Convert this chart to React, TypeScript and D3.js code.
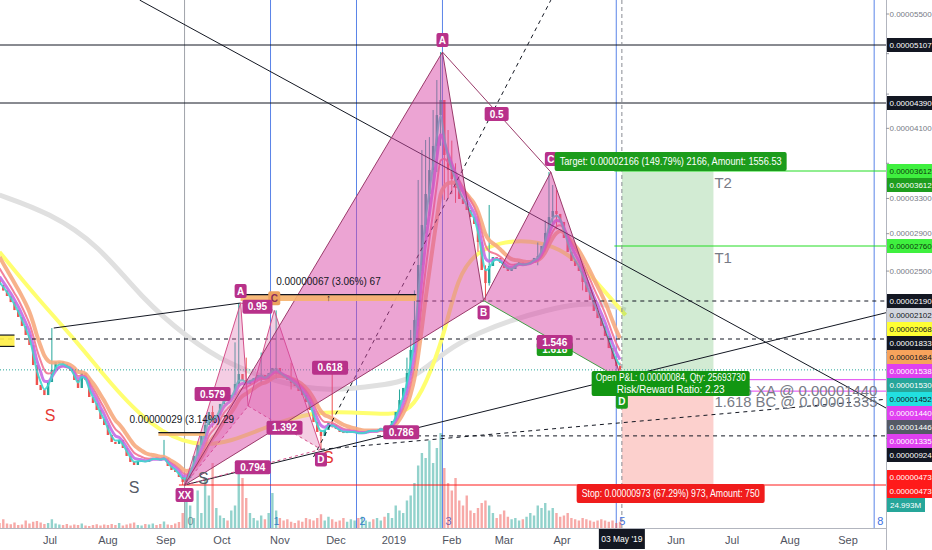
import * as d3 from "d3";

const W = 932;
const H = 550;
const PR = 886; // right edge of plot (price axis starts here)
const PB = 528; // bottom edge of plot (time axis starts here)
const FONT = "'Liberation Sans', Arial, sans-serif";
const AXIS_FS = 8;

const parseDay = d3.utcParse("%Y-%m-%d");
const day = (s: string) => parseDay(s) as Date;

// ---------- price data (2-day candles, prices in 1e-8 units) ----------
const candleStart = "2018-06-04";
const firstOpen = 2410;
const closes = [
  2356, 2299, 2242, 2180, 2105, 2040, 1955, 1871, 1774, 1577,
  1391, 1345, 1299, 1419, 1529, 1607, 1607, 1587, 1548, 1520,
  1437, 1364, 1501, 1437, 1281, 1226, 1162, 1079, 1024, 932,
  868, 850, 887, 813, 740, 685, 657, 694, 694, 685,
  703, 722, 712, 703, 722, 648, 611, 593, 547, 501,
  538, 629, 740, 841, 923, 1024, 1143, 1088, 1115, 1217,
  1290, 1272, 1299, 1400, 1492, 1437, 1400, 1437, 1455, 1483,
  1483, 1446, 1501, 1548, 1548, 1483, 1455, 1437, 1409, 1382,
  1336, 1299, 1235, 1162, 1051, 960, 923, 978, 1042, 1024,
  987, 960, 950, 960, 960, 960, 941, 950, 960, 978,
  969, 969, 997, 978, 1015, 1060, 1143, 1253, 1364, 1501,
  1725, 2011, 2563, 2999, 3351, 3623, 3898, 4252, 4427, 3795,
  3623, 3521, 3419, 3294, 3237, 3169, 3089, 3010, 2805, 2511,
  2376, 2553, 2646, 2636, 2584, 2532, 2501, 2522, 2574, 2594,
  2563, 2574, 2594, 2636, 2656, 2760, 2908, 3089, 3158, 3124,
  3033, 2851, 2698, 2605, 2553, 2501, 2387, 2283, 2200, 2096,
  2030, 1955, 1861, 1744, 1636, 1567, 1530,
];
// [candle index, high, low]
const wicks: [number, number, number][] = [
  [14, 1936, 1500], [44, 887, 700], [49, 560, 473], [55, 1080, 900],
  [57, 1200, 1000], [63, 1800, 1300], [64, 2171, 1380], [66, 1650, 1350],
  [70, 1700, 1400], [74, 2102, 1450], [78, 1600, 1350], [86, 980, 800],
  [89, 1558, 1000], [107, 1350, 1150], [109, 1650, 1300], [110, 1918, 1480],
  [111, 2300, 1700], [112, 3510, 1950], [113, 3852, 2500], [114, 3967, 2900],
  [115, 4000, 3100], [116, 4310, 3400], [117, 4674, 3600], [118, 5020, 3900],
  [119, 4195, 3283], [120, 4081, 3300], [121, 3960, 3350], [122, 3700, 3250],
  [128, 3100, 2700], [130, 2560, 2195], [131, 3226, 2350], [144, 2800, 2560],
  [146, 3050, 2700], [147, 3600, 2900], [148, 3453, 3000], [149, 3400, 2950],
  [156, 2550, 2300], [166, 1600, 1350],
];
// volume, millions
const volumes = [
  20, 35, 18, 15, 22, 12, 14, 30, 18, 25,
  28, 22, 16, 20, 35, 18, 14, 12, 16, 10,
  14, 12, 18, 10, 8, 12, 15, 10, 14, 12,
  16, 12, 20, 10, 14, 18, 22, 12, 10, 16,
  14, 18, 12, 16, 26, 14, 12, 18, 24, 60,
  120, 90, 40, 150, 60, 200, 130, 260, 80, 50,
  40, 30, 70, 90, 240, 200, 120, 60, 40, 30,
  50, 35, 60, 140, 70, 40, 30, 35, 25, 20,
  30, 25, 40, 35, 30, 40, 55, 30, 45, 35,
  25, 30, 40, 25, 35, 30, 40, 45, 30, 25,
  35, 40, 30, 45, 60, 40, 90, 70, 60, 110,
  130, 180, 250, 300, 280, 350, 260, 320, 380, 240,
  180, 150, 200, 110, 90, 130, 70, 60, 80, 100,
  110, 90, 60, 40, 55, 70, 45, 35, 40, 30,
  35, 45, 60, 50, 90, 80, 100, 70, 80, 60,
  45, 50, 60, 40, 35, 30, 40, 35, 30, 25,
  30, 35, 30, 25, 30, 20, 25,
];
const lastVolumeLabel = "24.993M";

// EMA ribbons (periods in candles, starting values read at the left edge)
const ribbonPeriods = [2.5, 4, 6, 9];
const ribbonSeeds = [2420, 2500, 2600, 2720];
const ribbonColors = ["#3fd6cf", "#c46be6", "#f27390", "#f6aa7e"];
const ribbonWidths = [2, 3, 2, 4];

// slow moving averages
const yellowMA: [string, number][] = [
  ["2018-06-04", 2698], ["2018-06-25", 2200], ["2018-07-17", 1774], ["2018-08-02", 1409],
  ["2018-08-24", 1006], ["2018-09-16", 822], ["2018-10-06", 868], ["2018-10-27", 1024],
  ["2018-11-18", 1143], ["2018-12-09", 1143], ["2018-12-31", 1116], ["2019-01-10", 1162],
  ["2019-01-18", 1391], ["2019-01-28", 1871], ["2019-02-04", 2439], ["2019-02-14", 2698],
  ["2019-02-27", 2805], ["2019-03-15", 2828], ["2019-03-31", 2739], ["2019-04-13", 2532],
  ["2019-04-24", 2283], ["2019-05-05", 2058],
];
const grayMA: [string, number][] = [
  ["2018-06-04", 3339], ["2018-07-01", 3135], ["2018-07-27", 2771], ["2018-08-19", 2221],
  ["2018-09-12", 1852], ["2018-10-05", 1577], ["2018-11-01", 1409], ["2018-11-27", 1327],
  ["2018-12-26", 1391], ["2019-01-11", 1437], ["2019-01-29", 1725], ["2019-02-16", 1899],
  ["2019-03-05", 2011], ["2019-03-24", 2105], ["2019-04-10", 2171], ["2019-04-28", 2152],
  ["2019-05-05", 2105],
];

// axes
const monthTicks: [string, string][] = [
  ["2018-07-01", "Jul"], ["2018-08-01", "Aug"], ["2018-09-01", "Sep"], ["2018-10-01", "Oct"],
  ["2018-11-01", "Nov"], ["2018-12-01", "Dec"], ["2019-01-01", "2019"], ["2019-02-01", "Feb"],
  ["2019-03-01", "Mar"], ["2019-04-01", "Apr"], ["2019-05-01", "May"], ["2019-06-01", "Jun"],
  ["2019-07-01", "Jul"], ["2019-08-01", "Aug"], ["2019-09-01", "Sep"],
];
const priceTicks = [5500, 5000, 4500, 4100, 3700, 3300, 2900, 2500, 2100, 1700, 1300, 900];
// [value, background, text colour] in price-axis order
const axisTags: [number, string, string][] = [
  [5107, "#131722", "#ffffff"], [4390, "#131722", "#ffffff"],
  [3612, "#3ff03f", "#0d3d0d"], [3612, "#1e9e1e", "#ffffff"],
  [2760, "#3ff03f", "#0d3d0d"], [2190, "#131722", "#ffffff"],
  [2102, "#d1d4dc", "#131722"], [2068, "#ffff33", "#131722"],
  [1833, "#131722", "#ffffff"], [1684, "#f7a35c", "#131722"],
  [1538, "#e040f0", "#ffffff"], [1530, "#26a69a", "#ffffff"],
  [1452, "#22e0e0", "#131722"], [1440, "#e040f0", "#ffffff"],
  [1446, "#555a66", "#ffffff"], [1335, "#e040f0", "#ffffff"],
  [924, "#131722", "#ffffff"], [473, "#ff1a1a", "#ffffff"],
  [473, "#ff1a1a", "#ffffff"],
];

// Fibonacci time zones
const fibDates = ["2018-09-11", "2018-10-27", "2018-12-12", "2019-01-27", "2019-04-30", "2019-09-15"];
const fibLabels = ["0", "1", "2", "3", "5", "8"];

// harmonic patterns X, A, B, C, D
const bigPattern: [string, number][] = [
  ["2018-09-11", 473], ["2019-01-27", 5020], ["2019-02-18", 2195], ["2019-03-26", 3600], ["2019-05-03", 1440],
];
const bigRatios = ["0.618", "0.5", "1.546", "0.786"];
const smallPattern: [string, number][] = [
  ["2018-09-11", 473], ["2018-10-11", 2171], ["2018-10-15", 1198], ["2018-10-29", 2102], ["2018-11-23", 800],
];
const smallRatios = ["0.579", "0.95", "1.392", "0.794"];

// long position tool
const entryDate = "2019-05-03";
const exitDate = "2019-06-21";
const entryPrice = 1446;
const targetPrice = 3612;
const stopPrice = 473;
const targetText = "Target: 0.00002166 (149.79%) 2166, Amount: 1556.53";
const stopText = "Stop: 0.00000973 (67.29%) 973, Amount: 750";
const pnlText = "Open P&L: 0.00000084, Qty: 25693730";
const rrText = "Risk/Reward Ratio: 2.23";
const crosshairText = "03 May '19";

// horizontal levels: value, start date (null = left edge)
const levelValues = [5107, 4390, 3612, 2760, 2190, 1833, 1530, 1440, 1335, 924, 473];
const levelStarts: (string | null)[] = [
  null, null, "2019-04-29", "2019-04-29", "2019-01-13", null, null, "2019-05-03", "2019-05-03", "2018-12-23", "2018-09-08",
];
const levelStyles = [
  { c: "#131722", d: "" }, { c: "#131722", d: "" }, { c: "#22dd22", d: "" }, { c: "#22dd22", d: "" },
  { c: "#131722", d: "4 4" }, { c: "#131722", d: "4 4" }, { c: "#26a69a", d: "1 2" }, { c: "#e040f0", d: "" },
  { c: "#e040f0", d: "" }, { c: "#131722", d: "4 4" }, { c: "#ff1a1a", d: "" },
];
const levelTexts: [number, string][] = [[1440, "0.786 XA @ 0.00001440"], [1335, "1.618 BC @ 0.00001335"]];
const targetNames: [number, string][] = [[3612, "T2"], [2760, "T1"]];

// trend lines: [start, end] with null meaning the right edge
const trendLines: { a: [string, number]; b: [string | null, number]; dash: string; color: string }[] = [
  { a: ["2018-08-18", 5676], b: [null, 1180], dash: "", color: "#131722" },
  { a: ["2018-09-11", 473], b: [null, 2080], dash: "", color: "#131722" },
  { a: ["2018-11-19", 730], b: ["2019-03-26", 5676], dash: "4 4", color: "#131722" },
  { a: ["2018-11-23", 800], b: [null, 1260], dash: "4 4", color: "#131722" },
  { a: ["2018-07-03", 1936], b: ["2018-10-11", 2171], dash: "", color: "#131722" },
];

// price range measurements: from, to, low, high, label
const measures: [string, string, number, number, string][] = [
  ["2018-10-11", "2019-01-13", 2190, 2257, "0.00000067 (3.06%) 67"],
  ["2018-08-28", "2018-09-22", 924, 953, "0.00000029 (3.14%) 29"],
  ["2018-06-01", "2018-06-12", 1760, 1870, ""],
];

// "S" marks
const sMarks: [string, number, string][] = [
  ["2018-07-01", 1116, "#e53935"], ["2018-08-15", 455, "#555a66"],
  ["2018-09-21", 537, "#555a66"], ["2018-11-27", 730, "#e53935"],
];

function Tag({ x, y, text, bg, fg = "#fff", fs = 10, h = 14, w }: any) {
  const width = w ?? text.length * fs * 0.6 + 6;
  return (
    <g>
      <rect x={x - width / 2} y={y - h / 2} width={width} height={h} rx={2} fill={bg} />
      <text x={x} y={y} dy="0.35em" textAnchor="middle" fontSize={fs} fontWeight="bold" fill={fg}>{text}</text>
    </g>
  );
}

export default function App() {
  const x = d3.scaleUtc().domain([day("2018-07-01"), day("2019-09-01")]).range([50, 848]);
  // price axis calibrated on the drawn levels
  const y = d3.scaleLinear()
    .domain([473, 1538, 1833, 2190, 2760, 3612, 4390, 5107, 5500])
    .range([485, 369, 339, 301, 246, 171, 103, 45, 14]);
  const vy = d3.scaleLinear().domain([0, 400]).range([PB, PB - 100]);
  const rightDate = x.invert(PR);

  const wickMap = new Map(wicks.map(w => [w[0], w]));
  const candles = closes.map((c, i) => {
    const date = d3.utcDay.offset(day(candleStart), i * 2);
    const open = i ? closes[i - 1] : firstOpen;
    const w = wickMap.get(i);
    return {
      date, open, close: c,
      high: w ? Math.max(w[1], open, c) : Math.max(open, c),
      low: w ? Math.min(w[2], open, c) : Math.min(open, c),
      vol: volumes[i],
      up: c >= open,
    };
  });

  const ribbons = ribbonPeriods.map((p, k) => {
    const a = 2 / (p + 1);
    let e = ribbonSeeds[k];
    return candles.map(c => {
      e += a * (c.close - e);
      return [c.date, e] as [Date, number];
    });
  });

  const smooth = d3.line<[Date, number]>().x(d => x(d[0])).y(d => y(d[1])).curve(d3.curveMonotoneX);
  const maPath = (pts: [string, number][]) =>
    d3.line<[string, number]>().x(d => x(day(d[0]))).y(d => y(d[1])).curve(d3.curveBasis)(pts) ?? "";

  // price-axis tags, stacked so they do not overlap
  const TAG_H = 14;
  const tagYs = axisTags.map(t => y(t[0]));
  for (let i = 1; i < tagYs.length; i++) tagYs[i] = Math.max(tagYs[i], tagYs[i - 1] + TAG_H);
  const volTagY = PB - 23;
  tagYs[tagYs.length - 1] = Math.min(tagYs[tagYs.length - 1], volTagY - TAG_H);
  for (let i = tagYs.length - 2; i >= 0; i--) tagYs[i] = Math.min(tagYs[i], tagYs[i + 1] - TAG_H);
  const tagCovers = (py: number) =>
    tagYs.some(ty => Math.abs(ty - py) < TAG_H - 2) || Math.abs(volTagY - py) < TAG_H - 2;

  const pat = (p: [string, number][]) => p.map(d => [x(day(d[0])), y(d[1])] as [number, number]);
  const big = pat(bigPattern);
  const small = pat(smallPattern);
  const mid = (a: [number, number], b: [number, number]) => [(a[0] + b[0]) / 2, (a[1] + b[1]) / 2];
  const tri = (a: number[], b: number[], c: number[]) => `M${a[0]},${a[1]}L${b[0]},${b[1]}L${c[0]},${c[1]}Z`;

  const xs = x(day(entryDate));
  const xe = x(day(exitDate));
  const cx = (xs + xe) / 2 + 3;
  const bw = 2.4;

  return (
    <svg width={W} height={H} style={{ position: "fixed", left: 0, top: 0 }} fontFamily={FONT}>
      <defs>
        <clipPath id="plot"><rect x={0} y={0} width={PR} height={PB} /></clipPath>
      </defs>
      <rect width={W} height={H} fill="#ffffff" />

      <g clipPath="url(#plot)">
        {/* Fibonacci time zones */}
        {fibDates.map((d, i) => (
          <g key={d}>
            <line x1={x(day(d))} x2={x(day(d))} y1={0} y2={PB} stroke={i === 0 ? "#a0a3ab" : "#5a84e8"} strokeWidth={1} />
            <text x={x(day(d)) + 3} y={PB - 3} fontSize={11} fill={i === 0 ? "#8a8d96" : "#3b6ee0"}>{fibLabels[i]}</text>
          </g>
        ))}

        {/* slow MAs */}
        <path d={maPath(grayMA)} fill="none" stroke="#e0e0e0" strokeWidth={5} />
        <path d={maPath(yellowMA)} fill="none" stroke="#ffff70" strokeWidth={4} />

        {/* volume */}
        {candles.map((c, i) => (
          <rect key={"v" + i} x={x(c.date) - bw / 2} y={vy(c.vol)} width={bw} height={PB - vy(c.vol)}
            fill={c.up ? "#26a69a" : "#ef5350"} opacity={0.5} />
        ))}

        {/* position tool areas */}
        <rect x={xs} y={y(targetPrice)} width={xe - xs} height={y(entryPrice) - y(targetPrice)} fill="rgba(76,175,80,0.25)" />
        <rect x={xs} y={y(entryPrice)} width={xe - xs} height={y(stopPrice) - y(entryPrice)} fill="rgba(244,67,54,0.25)" />

        {/* candles */}
        {candles.map((c, i) => {
          const col = c.up ? "#26a69a" : "#ef5350";
          const top = y(Math.max(c.open, c.close));
          const bot = y(Math.min(c.open, c.close));
          return (
            <g key={"c" + i}>
              <line x1={x(c.date)} x2={x(c.date)} y1={y(c.high)} y2={y(c.low)} stroke={col} strokeWidth={1} />
              <rect x={x(c.date) - bw / 2} y={top} width={bw} height={Math.max(1, bot - top)} fill={col} />
            </g>
          );
        })}

        {/* EMA ribbons, slowest first */}
        {[3, 2, 1, 0].map(k => (
          <path key={"r" + k} d={smooth(ribbons[k]) ?? ""} fill="none" stroke={ribbonColors[k]} strokeWidth={ribbonWidths[k]} opacity={0.9} />
        ))}

        {/* horizontal levels */}
        {levelValues.map((v, i) => (
          <line key={"l" + i} x1={levelStarts[i] ? x(day(levelStarts[i] as string)) : 0} x2={PR}
            y1={y(v)} y2={y(v)} stroke={levelStyles[i].c} strokeDasharray={levelStyles[i].d} strokeWidth={1} />
        ))}

        {/* trend lines */}
        {trendLines.map((t, i) => (
          <line key={"t" + i} x1={x(day(t.a[0]))} y1={y(t.a[1])}
            x2={x(t.b[0] ? day(t.b[0]) : rightDate)} y2={y(t.b[1])}
            stroke={t.color} strokeWidth={1} strokeDasharray={t.dash} />
        ))}

        {/* small XABCD pattern */}
        <path d={tri(small[0], small[1], small[2])} fill="#e070b0" opacity={0.35} />
        <path d={tri(small[2], small[3], small[4])} fill="#e070b0" opacity={0.35} />
        <path d={d3.line()(small) ?? ""} fill="none" stroke="#d4508a" strokeWidth={1} />
        <line x1={small[0][0]} y1={small[0][1]} x2={small[2][0]} y2={small[2][1]} stroke="#d4508a" strokeDasharray="3 3" />
        <line x1={small[1][0]} y1={small[1][1]} x2={small[3][0]} y2={small[3][1]} stroke="#d4508a" strokeDasharray="3 3" />
        <line x1={small[2][0]} y1={small[2][1]} x2={small[4][0]} y2={small[4][1]} stroke="#d4508a" strokeDasharray="3 3" />
        <line x1={small[0][0]} y1={small[0][1]} x2={small[4][0]} y2={small[4][1]} stroke="#d4508a" strokeDasharray="3 3" />

        {/* big XABCD pattern */}
        <path d={tri(big[0], big[1], big[2])} fill="#d94aa8" opacity={0.5} />
        <path d={tri(big[2], big[3], big[4])} fill="#d94aa8" opacity={0.5} />
        <path d={d3.line()(big) ?? ""} fill="none" stroke="#9a3a6a" strokeWidth={1} />
        <line x1={big[0][0]} y1={big[0][1]} x2={big[2][0]} y2={big[2][1]} stroke="#9a3a6a" />
        <line x1={big[1][0]} y1={big[1][1]} x2={big[3][0]} y2={big[3][1]} stroke="#9a3a6a" />
        <line x1={big[2][0]} y1={big[2][1]} x2={big[4][0]} y2={big[4][1]} stroke="#43a047" />

        {/* measurements */}
        {measures.map((m, i) => {
          const x1 = x(day(m[0])), x2 = x(day(m[1]));
          return (
            <g key={"m" + i}>
              <rect x={x1} y={y(m[3])} width={x2 - x1} height={y(m[2]) - y(m[3])} fill={i === 2 ? "#ffee44" : "#f6b26b"} opacity={0.9} />
              <line x1={x1} x2={x2} y1={y(m[3])} y2={y(m[3])} stroke="#131722" strokeWidth={1.2} />
              {i === 2 && <line x1={x1} x2={x2} y1={y(m[2])} y2={y(m[2])} stroke="#131722" strokeWidth={1.2} />}
              {m[4] && <text x={(x1 + x2) / 2} y={y(m[3]) - 10} textAnchor="middle" fontSize={10} fill="#131722">{m[4]}</text>}
              {i === 0 && <text x={(x1 + x2) / 2} y={y(m[3]) + 6} textAnchor="middle" fontSize={9} fill="#131722">↑</text>}
            </g>
          );
        })}

        {/* crosshair at last bar */}
        <line x1={xs} x2={xs} y1={0} y2={PB} stroke="#888b94" strokeDasharray="4 3" />

        {/* S marks */}
        {sMarks.map((s, i) => (
          <text key={"s" + i} x={x(day(s[0]))} y={y(s[1]) + 6} textAnchor="middle" fontSize={16} fill={s[2]}>S</text>
        ))}

        {/* level texts */}
        {targetNames.map(t => (
          <text key={t[1]} x={xe + 1} y={y(t[0]) + 17} fontSize={15} fill="#787b86">{t[1]}</text>
        ))}
        {levelTexts.map(t => (
          <text key={t[1]} x={xe + 1} y={y(t[0]) + 16} fontSize={15} fill="#787b86" textLength={163} lengthAdjust="spacingAndGlyphs">{t[1]}</text>
        ))}

        {/* pattern labels */}
        <Tag x={small[1][0]} y={small[1][1] - 12} text="A" bg="#b8318a" />
        <Tag x={small[3][0]} y={small[3][1] - 12} text="C" bg="#eba15e" fg="#8a2a5a" />
        <Tag x={small[4][0]} y={small[4][1] + 10} text="D" bg="#b8318a" />
        {(() => {
          const pts = [mid(small[0], small[1]), mid(small[1], small[3]), mid(small[2], small[4]), mid(small[0], small[4])];
          return pts.map((p, i) => <Tag key={"sr" + i} x={p[0]} y={p[1]} text={smallRatios[i]} bg="#b8318a" />);
        })()}
        <Tag x={big[0][0]} y={big[0][1] + 10} text="XX" bg="#b8318a" />
        <Tag x={big[1][0]} y={big[1][1] - 12} text="A" bg="#b8318a" />
        <Tag x={big[2][0]} y={big[2][1] + 12} text="B" bg="#b8318a" />
        <Tag x={big[3][0]} y={big[3][1] - 13} text="C" bg="#b8318a" />
        <Tag x={big[4][0]} y={big[4][1] + 22} text="D" bg="#1c9c1c" />
        {(() => {
          const xb = mid(big[0], big[2]);
          const ac = mid(big[1], big[3]);
          const bd = mid(big[2], big[4]);
          const xd = mid(big[0], big[4]);
          return (
            <g>
              <Tag x={xb[0] - 4} y={xb[1] - 25} text={bigRatios[0]} bg="#b8318a" />
              <Tag x={ac[0]} y={ac[1] + 2} text={bigRatios[1]} bg="#b8318a" />
              <Tag x={bd[0] + 2} y={bd[1] + 9} text="1.618" bg="#1c9c1c" />
              <Tag x={bd[0] + 2} y={bd[1] + 2} text={bigRatios[2]} bg="#b8318a" />
              <Tag x={xd[0] - 2} y={xd[1]} text={bigRatios[3]} bg="#b8318a" />
            </g>
          );
        })()}

        {/* position tool labels */}
        <rect x={cx - 116} y={y(targetPrice) - 19} width={232} height={19} rx={2} fill="#1c9c1c" />
        <text x={cx} y={y(targetPrice) - 6} textAnchor="middle" fontSize={10.5} fill="#fff" textLength={222} lengthAdjust="spacingAndGlyphs">{targetText}</text>
        <rect x={cx - 94} y={y(stopPrice) - 1} width={188} height={19} rx={2} fill="#f01c1c" />
        <text x={cx} y={y(stopPrice) + 12} textAnchor="middle" fontSize={10.5} fill="#fff" textLength={178} lengthAdjust="spacingAndGlyphs">{stopText}</text>
        <rect x={cx - 79} y={y(entryPrice) - 8} width={158} height={25} rx={2} fill="#129612" />
        <text x={cx} y={y(entryPrice) + 2} textAnchor="middle" fontSize={10} fill="#fff" textLength={150} lengthAdjust="spacingAndGlyphs">{pnlText}</text>
        <text x={cx} y={y(entryPrice) + 14} textAnchor="middle" fontSize={10} fill="#fff">{rrText}</text>
      </g>

      {/* time axis */}
      <line x1={0} x2={PR} y1={PB + 0.5} y2={PB + 0.5} stroke="#b2b5be" />
      {monthTicks.filter(m => Math.abs(x(day(m[0])) - xs) > 30).map(m => (
        <text key={m[0]} x={x(day(m[0]))} y={544} textAnchor="middle" fontSize={11} fill="#50535e">{m[1]}</text>
      ))}
      <rect x={xs - 23} y={PB + 1} width={46} height={20} fill="#131722" />
      <text x={xs} y={PB + 14} textAnchor="middle" fontSize={8.5} fill="#fff">{crosshairText}</text>

      {/* price axis */}
      <rect x={PR} y={0} width={W - PR} height={H} fill="#ffffff" />
      <line x1={PR + 0.5} x2={PR + 0.5} y1={0} y2={H} stroke="#b2b5be" />
      {priceTicks.map(t => (
        <g key={"pt" + t}>
          <line x1={PR} x2={PR + 3} y1={y(t)} y2={y(t)} stroke="#9598a1" />
          {!tagCovers(y(t)) && (
            <text x={PR + 3.5} y={y(t)} dy="0.35em" fontSize={AXIS_FS} fill="#787b86">
              {(t * 1e-8).toFixed(8)}
            </text>
          )}
        </g>
      ))}
      {axisTags.map((t, i) => (
        <g key={"tag" + i}>
          <rect x={PR + 1} y={tagYs[i] - TAG_H / 2} width={W - PR - 1} height={TAG_H} fill={t[1]} />
          <text x={PR + 3.5} y={tagYs[i]} dy="0.35em" fontSize={AXIS_FS} fill={t[2]}>
            {(t[0] * 1e-8).toFixed(8)}
          </text>
        </g>
      ))}
      <rect x={PR + 1} y={volTagY - TAG_H / 2} width={38} height={TAG_H} fill="#26a69a" />
      <text x={PR + 4} y={volTagY} dy="0.35em" fontSize={AXIS_FS} fill="#fff">{lastVolumeLabel}</text>
    </svg>
  );
}
